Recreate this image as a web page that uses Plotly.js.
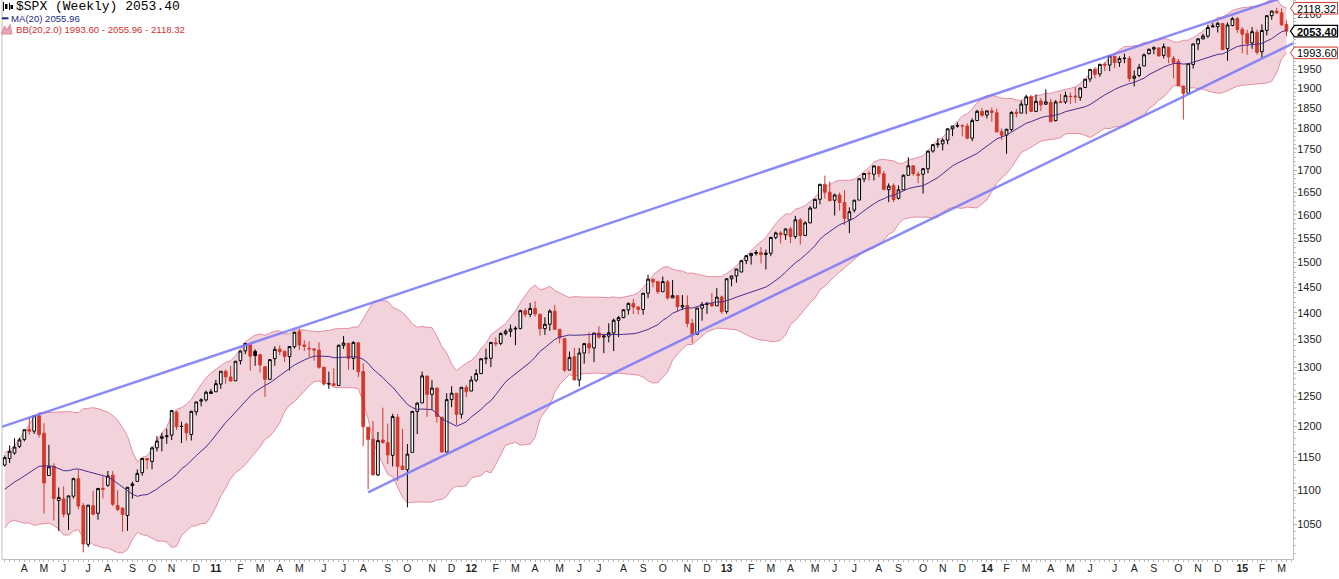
<!DOCTYPE html>
<html><head><meta charset="utf-8">
<script src="https://cdn.plot.ly/plotly-3.0.1.min.js"></script>
<style>html,body{margin:0;padding:0;background:#fff}#chart{width:1339px;height:579px}</style>
</head><body><div id="chart"></div>
<script>
// ---------------- DATA ----------------
const symbol = '$SPX';
const period = 'Weekly';
// closes of the 19 weeks before the first bar (indicator warm-up only)
const priorCloses = [1036.19,1069.30,1093.48,1091.38,1091.49,1105.98,1106.41,1102.47,1126.48,1115.10,1144.98,1136.03,1091.76,1073.87,1066.19,1075.51,1109.17,1104.49,1138.70];
// weekly bars, 12 Mar 2010 .. 13 Mar 2015 (bar index 0..261)
const opens = [
1138.4,1148.5,1157.2,1167.7,1178.7,1194.9,1192.1,1217.1,1188.6,1122.3,1136.5,1084.8,1087.3,1064.9,1091.2,1117.5,1077.5,1022.1,1077.2,1066.1,1102.9,1107.5,1122.8,1077.6,1073.4,1062.9,1107.1,1113.4,1126.6,1148.6,1144.0,1165.3,1180.5,1184.7,1185.7,1223.2,1200.0,1203.6,1186.6,1223.9,1241.8,1243.7,1254.7,
1257.6,1270.8,1293.2,1283.3,1276.5,1311.9,1329.5,1340.4,1328.6,1322.7,1301.2,1279.2,1315.5,1332.7,1329.0,1319.1,1337.1,1365.2,1340.2,1334.3,1333.1,1331.1,1300.3,1271.0,1271.5,1268.4,1339.6,1343.3,1315.9,1344.3,1292.6,1198.5,1179.2,1123.2,1177.9,1173.6,1153.5,1214.9,1136.9,1131.2,1158.2,1224.5,1238.7,1284.9,1253.2,1263.9,1215.0,1158.7,1244.3,1255.1,1219.7,1265.0,
1258.9,1277.8,1289.1,1315.3,1316.2,1344.3,1343.1,1361.2,1365.2,1369.6,1370.8,1404.2,1397.1,1408.5,1397.5,1370.3,1378.5,1403.3,1369.1,1351.9,1295.2,1318.9,1278.0,1325.7,1342.6,1334.9,1362.3,1354.7,1356.5,1362.3,1385.9,1391.0,1405.9,1418.1,1411.1,1406.5,1438.0,1465.4,1460.9,1440.9,1460.3,1428.8,1433.2,1411.5,1414.0,1380.1,1359.9,1409.0,1416.3,1418.1,1413.5,1430.6,
1402.4,1466.5,1472.1,1480.0,1503.0,1513.2,1517.9,1519.8,1515.6,1518.2,1551.2,1560.7,1556.9,1569.2,1553.3,1588.6,1555.3,1582.3,1614.4,1633.7,1667.5,1649.6,1631.7,1643.4,1626.7,1588.8,1609.8,1632.1,1679.6,1692.1,1690.3,1708.0,1691.4,1655.3,1664.3,1635.9,1655.2,1688.0,1709.9,1687.3,1690.5,1703.0,1744.5,1759.8,1761.6,1770.6,1798.2,1804.8,1806.6,1805.1,1775.4,1818.3,
1841.5,1832.3,1842.3,1837.7,1791.0,1782.7,1796.2,1838.8,1836.8,1857.7,1878.0,1841.1,1867.2,1859.2,1863.9,1818.2,1865.8,1864.9,1879.5,1880.1,1876.7,1902.0,1923.9,1949.4,1937.2,1962.9,1960.8,1984.2,1968.0,1979.8,1978.3,1926.0,1933.4,1958.4,1991.7,2004.1,2007.2,1986.8,2009.1,1979.0,1970.0,1905.7,1886.8,1962.6,2018.2,2032.0,2039.7,2065.1,2065.8,2074.8,2005.0,2069.3,
2088.8,2058.9,2046.1,2020.8,2050.4,1996.7,2055.5,2097.0,2109.8,2105.2,2072.3];
const highs = [
1153.4,1169.2,1180.7,1181.4,1194.7,1213.9,1217.6,1219.8,1205.1,1170.0,1141.0,1104.1,1105.7,1092.0,1119.0,1131.2,1081.1,1078.2,1099.1,1103.7,1120.9,1129.2,1129.2,1100.1,1075.3,1105.1,1113.0,1131.5,1148.9,1148.6,1167.7,1184.4,1189.4,1196.1,1227.1,1225.8,1207.4,1205.9,1225.6,1240.4,1246.6,1259.6,1262.6,
1278.2,1293.2,1296.1,1302.7,1311.0,1330.3,1344.1,1340.4,1332.3,1322.7,1301.2,1315.0,1337.9,1339.5,1329.0,1337.5,1364.6,1370.6,1348.9,1346.8,1334.0,1345.2,1300.3,1292.5,1298.6,1341.0,1356.5,1343.3,1347.0,1344.3,1307.4,1198.6,1208.5,1190.7,1230.7,1204.4,1220.4,1220.4,1195.9,1171.4,1224.6,1239.9,1292.7,1284.9,1277.6,1264.3,1215.0,1255.1,1267.1,1255.1,1265.4,1269.4,
1284.6,1296.8,1315.5,1333.5,1345.3,1354.3,1363.4,1368.9,1378.0,1374.8,1406.0,1409.1,1419.2,1422.4,1397.5,1391.7,1406.6,1415.3,1369.1,1351.9,1328.5,1334.9,1334.8,1343.3,1363.5,1362.2,1374.8,1357.3,1380.4,1389.2,1394.2,1407.1,1420.0,1426.7,1413.6,1437.9,1474.5,1467.1,1460.9,1471.0,1464.0,1464.0,1433.7,1434.3,1433.4,1388.8,1409.2,1421.0,1420.9,1438.6,1448.0,1433.4,
1467.9,1472.3,1486.0,1503.3,1514.4,1518.3,1524.7,1530.9,1525.8,1552.5,1563.6,1564.9,1570.3,1573.7,1597.4,1592.6,1585.7,1618.5,1635.0,1667.5,1687.2,1674.2,1646.5,1648.7,1654.2,1615.9,1632.1,1680.2,1693.1,1698.4,1709.7,1708.0,1698.0,1669.5,1669.5,1664.8,1690.0,1729.9,1711.0,1696.6,1703.4,1745.3,1759.8,1775.2,1774.5,1798.2,1804.8,1813.6,1808.4,1811.5,1823.8,1844.9,
1849.4,1843.2,1850.8,1848.1,1798.8,1798.0,1841.7,1847.5,1867.9,1883.6,1882.4,1884.0,1875.0,1897.3,1873.0,1869.6,1884.9,1891.3,1889.1,1902.2,1901.3,1924.0,1949.4,1955.6,1963.9,1968.2,1985.6,1985.6,1983.9,1991.4,1984.9,1946.7,1964.0,1992.0,2005.0,2011.2,2007.7,2019.3,2009.1,1985.2,1977.8,1906.1,1965.3,2018.2,2034.3,2046.2,2071.5,2075.8,2079.5,2075.8,2077.9,2093.6,
2093.6,2064.4,2056.9,2064.6,2057.6,2072.4,2097.0,2110.6,2119.6,2117.5,2083.5];
const lows = [
1136.2,1141.5,1154.4,1165.0,1175.7,1186.4,1187.6,1181.6,1065.8,1122.3,1055.9,1040.8,1060.1,1042.2,1087.7,1071.9,1010.9,1018.4,1063.3,1056.9,1088.0,1105.2,1076.6,1069.4,1039.7,1040.9,1087.7,1113.4,1122.0,1131.9,1131.9,1159.7,1159.7,1171.7,1177.7,1194.1,1173.0,1176.8,1177.0,1217.8,1232.9,1240.9,1254.0,
1257.6,1262.7,1271.3,1275.1,1276.5,1305.2,1323.6,1294.3,1303.0,1291.0,1249.0,1277.7,1303.0,1322.3,1309.7,1294.7,1333.5,1331.1,1329.2,1318.5,1311.8,1297.6,1268.2,1262.7,1267.1,1268.4,1333.2,1295.9,1295.9,1282.9,1168.1,1101.5,1122.0,1121.1,1172.0,1140.1,1136.2,1114.2,1131.0,1074.8,1158.2,1187.3,1238.7,1215.4,1226.6,1206.0,1158.7,1158.7,1231.5,1202.4,1212.6,1248.6,
1258.9,1274.4,1289.1,1306.1,1300.5,1337.5,1340.0,1357.7,1354.9,1340.0,1368.9,1391.9,1391.8,1392.9,1357.4,1358.8,1366.2,1367.7,1343.1,1292.0,1295.2,1277.8,1266.7,1306.6,1324.4,1309.3,1351.6,1325.4,1345.1,1329.2,1354.7,1389.9,1396.6,1398.0,1397.0,1396.6,1428.1,1449.9,1436.7,1440.9,1425.5,1428.6,1403.3,1405.9,1373.0,1343.4,1359.9,1385.4,1398.1,1411.2,1413.5,1398.1,
1398.1,1451.6,1458.6,1480.0,1496.3,1495.0,1513.6,1497.3,1485.0,1512.1,1547.4,1538.6,1546.2,1539.5,1548.2,1536.0,1555.3,1581.3,1614.4,1622.7,1635.5,1630.7,1598.2,1608.9,1577.7,1560.3,1604.6,1632.1,1672.1,1676.0,1676.0,1683.5,1654.2,1627.5,1627.5,1633.4,1655.2,1688.0,1687.1,1670.4,1646.5,1692.7,1740.6,1752.7,1746.2,1760.6,1780.2,1800.9,1779.4,1772.3,1768.0,1818.3,
1827.7,1823.7,1815.3,1790.3,1770.5,1737.9,1791.8,1826.3,1836.8,1834.4,1839.6,1839.5,1842.1,1858.2,1814.4,1816.3,1862.8,1859.8,1859.8,1862.4,1868.1,1900.4,1916.0,1925.8,1930.0,1944.7,1944.7,1952.9,1955.6,1965.8,1916.4,1904.8,1928.8,1958.4,1988.6,1990.1,1984.0,1978.5,1966.0,1926.0,1906.1,1820.7,1886.8,1951.4,2001.0,2030.2,2034.5,2064.6,2049.6,2002.3,1972.6,2066.9,
2048.4,1992.4,1988.1,2004.5,1989.2,1980.9,2041.9,2085.4,2103.5,2067.3,2039.7];
const closes = [
1150.0,1159.9,1166.6,1178.1,1194.4,1192.1,1217.3,1186.7,1110.9,1135.7,1087.7,1089.4,1064.9,1091.6,1117.5,1076.8,1022.6,1078.0,1064.9,1102.7,1101.6,1121.6,1079.3,1071.7,1064.6,1104.5,1109.6,1125.6,1148.7,1146.2,1165.2,1176.2,1183.1,1183.3,1225.9,1199.2,1199.7,1189.4,1224.7,1240.4,1243.9,1256.8,1257.6,
1271.5,1293.2,1283.4,1276.3,1310.9,1329.2,1343.0,1320.0,1321.2,1304.3,1279.2,1313.8,1332.4,1328.2,1319.7,1337.4,1363.6,1340.2,1337.8,1333.3,1331.1,1300.2,1271.0,1271.5,1268.5,1339.7,1343.8,1316.1,1345.0,1292.3,1199.4,1178.8,1123.5,1176.8,1174.0,1154.2,1216.0,1136.4,1131.4,1155.5,1224.6,1238.3,1285.1,1253.2,1263.9,1216.0,1158.7,1244.3,1255.2,1219.7,1265.3,1257.6,
1277.8,1289.1,1315.4,1316.3,1344.9,1342.6,1361.2,1365.7,1369.6,1370.9,1404.2,1397.1,1408.5,1398.1,1370.3,1378.5,1403.4,1369.1,1353.4,1295.2,1317.8,1278.0,1325.7,1342.8,1335.0,1362.2,1354.7,1356.8,1362.7,1386.0,1391.0,1405.9,1418.2,1411.1,1406.6,1437.9,1465.8,1460.2,1440.7,1460.9,1428.6,1433.2,1411.9,1414.2,1379.9,1359.9,1409.2,1416.2,1418.1,1413.6,1430.2,1402.4,
1466.5,1472.1,1486.0,1503.0,1513.2,1517.9,1519.8,1515.6,1518.2,1551.2,1560.7,1556.9,1569.2,1553.3,1588.9,1555.3,1582.2,1614.4,1633.7,1667.5,1649.6,1630.7,1643.4,1626.7,1592.4,1606.3,1631.9,1680.2,1692.1,1691.7,1709.7,1691.4,1655.8,1663.5,1633.0,1655.2,1688.0,1709.9,1691.8,1690.5,1703.2,1744.5,1759.8,1761.6,1770.6,1798.2,1804.8,1805.8,1805.1,1775.3,1818.3,1841.4,
1831.4,1842.4,1838.7,1790.3,1782.6,1797.0,1838.6,1836.3,1859.5,1878.0,1841.1,1866.5,1857.6,1865.1,1815.7,1864.9,1863.4,1881.1,1878.5,1877.9,1900.5,1923.6,1949.4,1936.2,1962.9,1961.0,1985.4,1967.6,1978.2,1978.3,1925.2,1931.6,1955.1,1988.4,2003.4,2007.7,1985.5,2010.4,1982.9,1967.9,1906.1,1886.8,1964.6,2018.05,2031.92,2039.82,2063.50,2067.56,2075.37,2002.33,2070.65,2088.77,
2058.20,2044.81,2019.42,2051.82,1994.99,2055.47,2096.99,2110.30,2104.50,2071.26,2053.40];
// month labels: bar index of the first bar of each month, and its label
const monthTickIdx = [4,8,12,17,21,26,30,34,39, 43,48,52,56,60,65,69,73,78,82,87,91, 95,100,104,108,113,117,121,126,130,134,139,143, 147,152,156,160,165,169,173,178,182,187,191,195, 200,204,208,213,217,221,226,230,234,239,243,247, 252,256,260];
const monthTickText = ['A','M','J','J','A','S','O','N','D', '11','F','M','A','M','J','J','A','S','O','N','D', '12','F','M','A','M','J','J','A','S','O','N','D', '13','F','M','A','M','J','J','A','S','O','N','D', '14','F','M','A','M','J','J','A','S','O','N','D', '15','F','M'];
const priceTicks = [1050,1100,1150,1200,1250,1300,1350,1400,1450,1500,1550,1600,1650,1700,1750,1800,1850,1900,1950,2000,2050,2100];
// trend lines: two anchor points each (bar index, price)
const upperTrendIdx = [6, 251], upperTrendVal = [1217, 2105];
const lowerTrendIdx = [74, 255], lowerTrendVal = [1097, 1972];
const maPeriod = 20, bbMult = 2;

// ---------------- INDICATORS ----------------
const n = closes.length;
const idx = closes.map((_, i) => i);
const allC = priorCloses.concat(closes);
const ma = [], bbU = [], bbL = [];
for (let i = 0; i < n; i++) {
  const end = i + priorCloses.length + 1;
  const w = allC.slice(end - maPeriod, end);
  const m = w.reduce((a, b) => a + b, 0) / w.length;
  const sd = Math.sqrt(w.reduce((a, b) => a + (b - m) * (b - m), 0) / w.length);
  ma.push(m); bbU.push(m + bbMult * sd); bbL.push(m - bbMult * sd);
}
function trend(ix, vals, x0, x1) {
  const s = (Math.log(vals[1]) - Math.log(vals[0])) / (ix[1] - ix[0]);
  const f = x => Math.exp(Math.log(vals[0]) + s * (x - ix[0]));
  return { x: [x0, x1], y: [f(x0), f(x1)] };
}

// ---------------- LAYOUT GEOMETRY ----------------
const PL = 2, PW = 1291, PH = 559;
const xr = [-0.55, 262.33];
const yr = [Math.log10(1001.9), Math.log10(2142.2)];
const px2x = p => (p - PL) / PW;
const py2y = p => 1 - p / PH;
const v2py = v => PH * (yr[1] - Math.log10(v)) / (yr[1] - yr[0]);

const RED = '#d2392b';
const prevClose = i => (i === 0 ? priorCloses[priorCloses.length - 1] : closes[i - 1]);
const upSel = idx.filter(i => closes[i] >= prevClose(i));
const dnSel = idx.filter(i => closes[i] < prevClose(i));
function candles(sel, color) {
  return {
    type: 'candlestick', xaxis: 'x2', yaxis: 'y2',
    x: sel, open: sel.map(i => opens[i]), high: sel.map(i => highs[i]),
    low: sel.map(i => lows[i]), close: sel.map(i => closes[i]),
    increasing: { line: { color: color, width: 1 }, fillcolor: '#ffffff' },
    decreasing: { line: { color: color, width: 1 }, fillcolor: color },
    whiskerwidth: 0, hoverinfo: 'skip', showlegend: false
  };
}
const up = trend(upperTrendIdx, upperTrendVal, -1, 263);
const lo = trend(lowerTrendIdx, lowerTrendVal, lowerTrendIdx[0], 263);

const traces = [
  { type: 'scatter', mode: 'lines', x: idx, y: bbL, line: { color: '#e68da0', width: 1 }, hoverinfo: 'skip' },
  { type: 'scatter', mode: 'lines', x: idx, y: bbU, line: { color: '#e68da0', width: 1 }, fill: 'tonexty', fillcolor: '#f2d3db', hoverinfo: 'skip' },
  candles(upSel, '#000000'),
  candles(dnSel, RED),
  { type: 'scatter', mode: 'lines', x: idx, y: ma, xaxis: 'x2', yaxis: 'y2', line: { color: '#4b2b8c', width: 1 }, hoverinfo: 'skip' },
  { type: 'scatter', mode: 'lines', x: up.x, y: up.y, xaxis: 'x2', yaxis: 'y2', line: { color: 'rgba(118,118,248,0.85)', width: 2.5 }, hoverinfo: 'skip' },
  { type: 'scatter', mode: 'lines', x: lo.x, y: lo.y, xaxis: 'x2', yaxis: 'y2', line: { color: 'rgba(118,118,248,0.85)', width: 2.5 }, hoverinfo: 'skip' }
];

const minorY = [];
for (let v = 1010; v <= 2140; v += 10) if (v % 50 !== 0) minorY.push(v);

const lastC = closes[n - 1], lastMA = ma[n - 1], lastU = bbU[n - 1], lastL = bbL[n - 1];
const f2 = v => v.toFixed(2);

const annotations = [
  { text: symbol + ' (' + period + ') ' + f2(lastC), x: px2x(14), y: py2y(6.5), xref: 'paper', yref: 'paper', xanchor: 'left', yanchor: 'middle', showarrow: false, font: { family: 'Liberation Mono, monospace', size: 13, color: '#000' } },
  { text: 'MA(' + maPeriod + ') ' + f2(lastMA), x: px2x(9), y: py2y(18.3), xref: 'paper', yref: 'paper', xanchor: 'left', yanchor: 'middle', showarrow: false, font: { family: 'Liberation Sans, Arial', size: 9.6, color: '#1a2a8a' } },
  { text: 'BB(' + maPeriod + ',' + bbMult.toFixed(1) + ') ' + f2(lastL) + ' - ' + f2(lastMA) + ' - ' + f2(lastU), x: px2x(14), y: py2y(29.3), xref: 'paper', yref: 'paper', xanchor: 'left', yanchor: 'middle', showarrow: false, font: { family: 'Liberation Sans, Arial', size: 9.6, color: '#d03030' } }
];
const shapes = [
  { type: 'line', xref: 'paper', yref: 'paper', x0: 0, x1: 0, y0: 0, y1: 1, line: { color: '#bdbdbd', width: 1 } },
  // legend icons
  { type: 'line', xref: 'paper', yref: 'paper', x0: px2x(3.5), x1: px2x(3.5), y0: py2y(2), y1: py2y(11), line: { color: '#000', width: 1 } },
  { type: 'rect', xref: 'paper', yref: 'paper', x0: px2x(5), x1: px2x(7.5), y0: py2y(4), y1: py2y(9), line: { width: 0 }, fillcolor: '#000' },
  { type: 'line', xref: 'paper', yref: 'paper', x0: px2x(9.5), x1: px2x(9.5), y0: py2y(3), y1: py2y(10), line: { color: '#000', width: 1 } },
  { type: 'rect', xref: 'paper', yref: 'paper', x0: px2x(10.5), x1: px2x(13), y0: py2y(5), y1: py2y(9), line: { width: 0 }, fillcolor: '#000' },
  { type: 'line', xref: 'paper', yref: 'paper', x0: px2x(2), x1: px2x(8.5), y0: py2y(18.3), y1: py2y(18.3), line: { color: '#1a2a8a', width: 2 } },
  { type: 'path', xref: 'paper', yref: 'paper', path: 'M' + px2x(1.5) + ',' + py2y(34) + ' L' + px2x(4.5) + ',' + py2y(26) + ' L' + px2x(7) + ',' + py2y(30) + ' L' + px2x(10) + ',' + py2y(24.5) + ' L' + px2x(12) + ',' + py2y(34) + ' Z', fillcolor: '#eaa2b2', line: { color: '#e08898', width: 1 } }
];
// price boxes at the right edge
const boxSpans = [];
[[lastU, RED, false], [lastC, '#000', true], [lastL, RED, false]].forEach(([v, col, bold]) => {
  const c = v2py(v), h = 5.8;
  boxSpans.push([c - h, c + h]);
  const p = [[1290.5, c], [1294.5, c - h], [1337.5, c - h], [1337.5, c + h], [1294.5, c + h]];
  shapes.push({ type: 'path', xref: 'paper', yref: 'paper', layer: 'above',
    path: 'M' + p.map(q => px2x(q[0]) + ',' + py2y(q[1])).join(' L') + ' Z',
    fillcolor: '#ffffff', line: { color: col, width: bold ? 1.2 : 1 } });
  annotations.push({ text: bold ? '<b>' + f2(v) + '</b>' : f2(v), x: px2x(1294.5), y: py2y(c + 0.5), xref: 'paper', yref: 'paper', xanchor: 'left', yanchor: 'middle', showarrow: false, font: { family: 'Liberation Sans, Arial', size: 11, color: '#000' } });
});
// tick labels fully hidden behind a price box are left blank (as in the reference)
const yTickText = priceTicks.map(v => {
  const c = v2py(v);
  return boxSpans.some(s => c - 3 > s[0] && c + 3 < s[1] + 2) ? '' : String(v);
});

const layout = {
  width: 1339, height: 579,
  margin: { l: PL, r: 1339 - PL - PW, t: 0, b: 579 - PH },
  paper_bgcolor: '#ffffff', plot_bgcolor: '#ffffff',
  showlegend: false, boxgap: 0.22,
  xaxis: {
    range: xr, tickmode: 'array', tickvals: monthTickIdx,
    ticktext: monthTickText.map(t => /\d/.test(t) ? '<b>' + t + '</b>' : t),
    showgrid: false, zeroline: false, showline: true, linecolor: '#bdbdbd', linewidth: 1,
    ticks: 'outside', ticklen: 2, tickcolor: '#b0b0b0', ticklabelstandoff: -3,
    minor: { tickmode: 'linear', tick0: 0, dtick: 1, ticks: 'outside', ticklen: 2, tickcolor: '#b8b8b8' },
    tickfont: { family: 'Liberation Sans, Arial', size: 10.5, color: '#222' },
    rangeslider: { visible: false }, fixedrange: true
  },
  yaxis: {
    type: 'log', range: yr, side: 'right', tickmode: 'array', tickvals: priceTicks,
    ticktext: yTickText, showgrid: false, zeroline: false,
    showline: true, linecolor: '#bdbdbd', linewidth: 1,
    ticks: 'outside', ticklen: 3, tickcolor: '#b0b0b0', ticklabelstandoff: -2,
    minor: { tickmode: 'array', tickvals: minorY, ticks: 'outside', ticklen: 2, tickcolor: '#c0c0c0' },
    tickfont: { family: 'Liberation Sans, Arial', size: 11, color: '#222' }, fixedrange: true
  },
  xaxis2: { overlaying: 'x', range: xr, visible: false, rangeslider: { visible: false }, fixedrange: true },
  yaxis2: { overlaying: 'y', type: 'log', range: yr, visible: false, side: 'right', fixedrange: true },
  annotations: annotations, shapes: shapes
};
Plotly.newPlot('chart', traces, layout, { displayModeBar: false, staticPlot: true });
</script>
</body></html>
